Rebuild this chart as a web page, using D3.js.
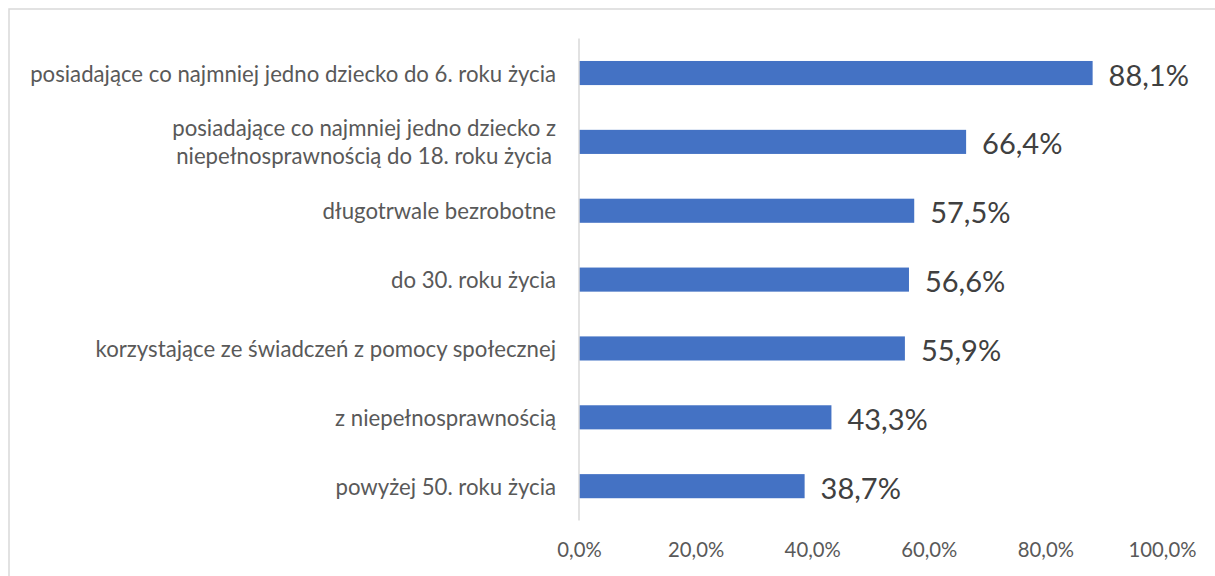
<!DOCTYPE html>
<html><head><meta charset="utf-8">
<script src="https://cdn.jsdelivr.net/npm/d3@7"></script>
<style>body{margin:0;background:#fff;} text{font-family:Lato, "Open Sans", sans-serif;}</style>
</head><body>
<svg id="c" width="1215" height="576"></svg>
<script>
const categories = [
  ["posiadające co najmniej jedno dziecko do 6. roku życia"],
  ["posiadające co najmniej jedno dziecko z", "niepełnosprawnością do 18. roku życia"],
  ["długotrwale bezrobotne"],
  ["do 30. roku życia"],
  ["korzystające ze świadczeń z pomocy społecznej"],
  ["z niepełnosprawnością"],
  ["powyżej 50. roku życia"]
];
const values = [88.1, 66.4, 57.5, 56.6, 55.9, 43.3, 38.7];
const tickValues = [0, 20, 40, 60, 80, 100];

const svg = d3.select("#c");
// chart border
svg.append("rect").attr("x", 9).attr("y", 9).attr("width", 1240).attr("height", 600)
  .attr("fill", "none").attr("stroke", "#d9d9d9").attr("stroke-width", 1.5);

const x = d3.scaleLinear().domain([0, 100]).range([579, 1162]);
const y = d3.scaleBand().domain(d3.range(values.length)).range([38.6, 520.6]).paddingInner(0.65).paddingOuter(0.325);
const fmt = v => d3.format(".1f")(v).replace(".", ",") + "%";

// bars
svg.selectAll("rect.bar").data(values).join("rect").attr("class", "bar")
  .attr("x", x(0)).attr("y", (d, i) => y(i)).attr("width", d => x(d) - x(0))
  .attr("height", y.bandwidth()).attr("fill", "#4472c4");

// axis line
svg.append("line").attr("x1", x(0)).attr("x2", x(0)).attr("y1", 38.6).attr("y2", 520.6)
  .attr("stroke", "#d9d9d9").attr("stroke-width", 1.5);

// value labels
svg.selectAll("text.val").data(values).join("text").attr("class", "val")
  .attr("x", d => x(d) + 16).attr("y", (d, i) => y(i) + y.bandwidth() / 2 + 1)
  .attr("dominant-baseline", "central").attr("font-size", 29).attr("fill", "#404040")
  .text(fmt);

// category labels
const lineH = 28;
categories.forEach((lines, i) => {
  const cy = y(i) + y.bandwidth() / 2;
  const g = svg.append("g");
  const texts = lines.map((l, j) => g.append("text")
    .attr("y", cy + (j - (lines.length - 1) / 2) * lineH)
    .attr("dominant-baseline", "central").attr("font-size", 22.2).attr("fill", "#595959")
    .attr("text-anchor", "middle").text(l));
  const widths = texts.map(t => t.node().getComputedTextLength());
  const maxW = d3.max(widths);
  texts.forEach(t => t.attr("x", 556 - maxW / 2));
});

// x axis tick labels
const axis = d3.axisBottom(x).tickValues(tickValues).tickSize(0).tickFormat(d => fmt(d));
const ga = svg.append("g").attr("transform", "translate(0,540)").call(axis);
ga.select(".domain").remove();
ga.selectAll("text").attr("font-size", 20.3).attr("fill", "#595959").attr("font-family", "Lato, 'Open Sans', sans-serif");
</script>
</body></html>
